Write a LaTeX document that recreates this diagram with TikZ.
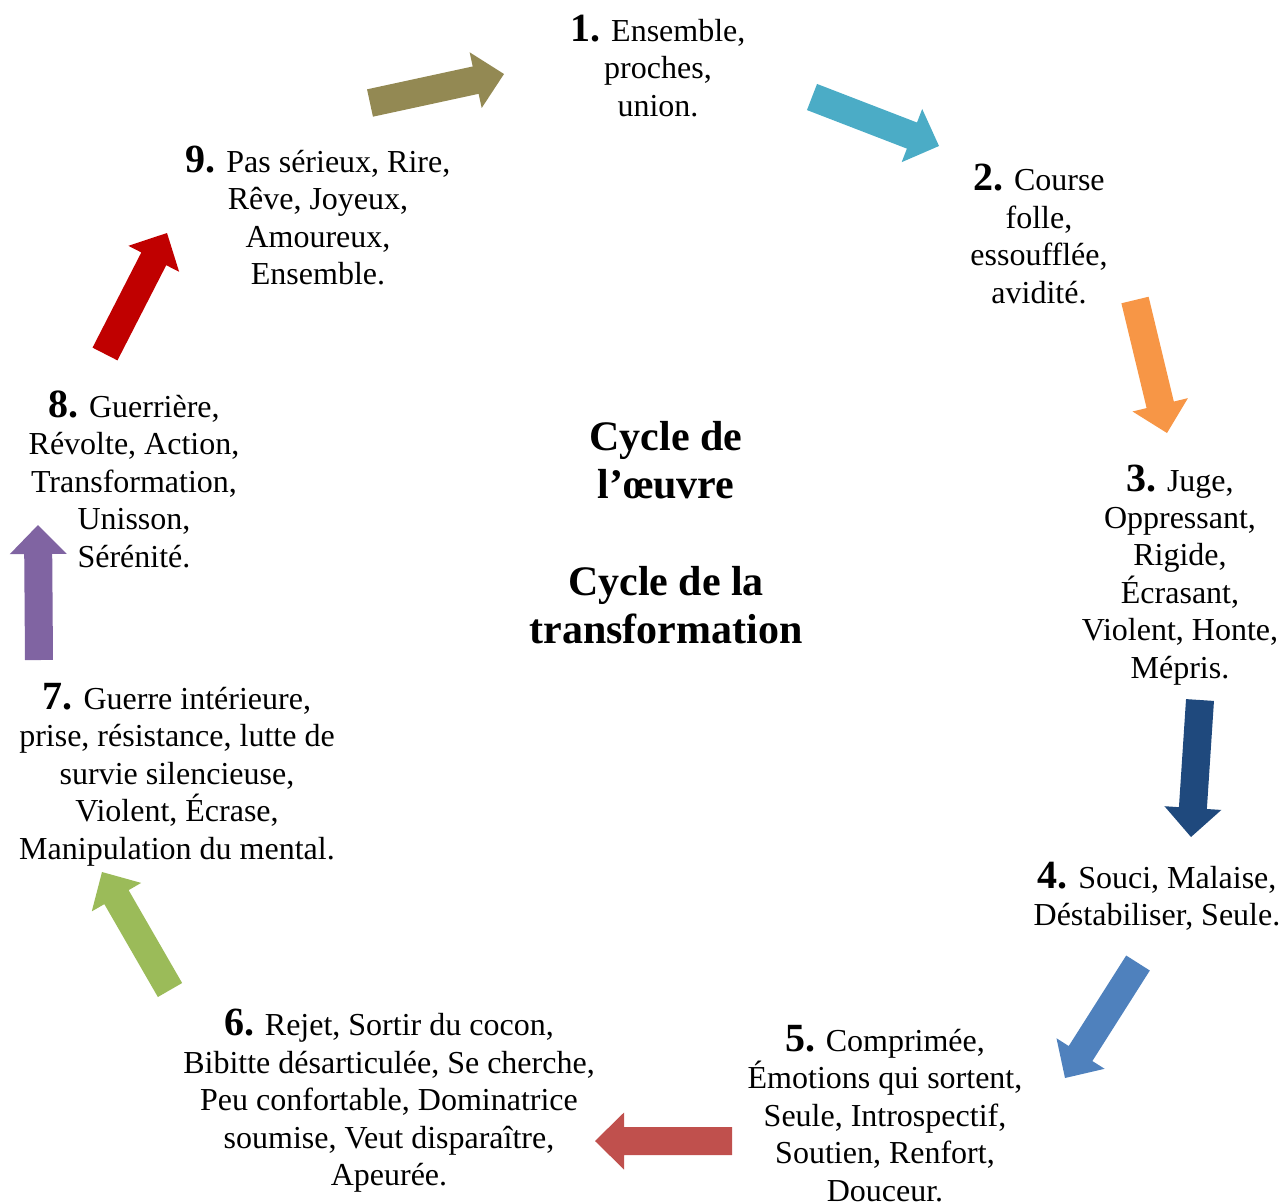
\documentclass[tikz,border=0pt]{standalone}
\usepackage{fontspec}
\setmainfont{Liberation Serif}
\usetikzlibrary{calc}
\definecolor{cOlive}{HTML}{938953}
\definecolor{cTeal}{HTML}{4BACC6}
\definecolor{cOrange}{HTML}{F79646}
\definecolor{cNavy}{HTML}{1F497D}
\definecolor{cBlue}{HTML}{4F81BD}
\definecolor{cRed}{HTML}{C0504D}
\definecolor{cGreen}{HTML}{9BBB59}
\definecolor{cPurple}{HTML}{8064A2}
\definecolor{cDarkRed}{HTML}{C00000}
\newcommand\numb[1]{{\fontsize{20}{20}\selectfont\bfseries #1}}
\newcommand\blockarrow[3]{%
  \path coordinate (hb) at ($(#2)!14.5pt!(#1)$);
  \fill[#3] ($(#1)!7pt!90:(#2)$) -- ($(hb)!7pt!-90:(#1)$) -- ($(hb)!14.25pt!-90:(#1)$)
    -- (#2) -- ($(hb)!14.25pt!90:(#1)$) -- ($(hb)!7pt!90:(#1)$) -- ($(#1)!7pt!-90:(#2)$) -- cycle;
}
\tikzset{
  txt/.style={align=center, anchor=base, inner sep=0pt, font=\fontsize{16}{18.7}\selectfont},
  ttl/.style={align=center, anchor=base, inner sep=0pt, font=\fontsize{21}{24.2}\selectfont\bfseries}
}
\begin{document}
\begin{tikzpicture}[x=0.5pt,y=-0.5pt]
\useasboundingbox (0,0) rectangle (1285,1201);
% text blocks (anchor = baseline of the last line)
\node[txt] (n1) at (658,116) {\numb{1.} Ensemble,\\proches,\\union.};
\node[txt] (n2) at (1039,303) {\numb{2.} Course\\folle,\\essoufflée,\\avidité.};
\node[txt] (n3) at (1180,678) {\numb{3.} Juge,\\Oppressant,\\Rigide,\\Écrasant,\\Violent, Honte,\\Mépris.};
\node[txt] (n4) at (1157,925.5) {\numb{4.} Souci, Malaise,\\Déstabiliser, Seule.};
\node[txt] (n5) at (885,1201) {\numb{5.} Comprimée,\\Émotions qui sortent,\\Seule, Introspectif,\\Soutien, Renfort,\\Douceur.};
\node[txt] (n6) at (389,1185.5) {\numb{6.} Rejet, Sortir du cocon,\\Bibitte désarticulée, Se cherche,\\Peu confortable, Dominatrice\\soumise, Veut disparaître,\\Apeurée.};
\node[txt] (n7) at (177,859) {\numb{7.} Guerre intérieure,\\prise, résistance, lutte de\\survie silencieuse,\\Violent, Écrase,\\Manipulation du mental.};
\node[txt] (n8) at (134,567) {\numb{8.} Guerrière,\\Révolte, Action,\\Transformation,\\Unisson,\\Sérénité.};
\node[txt] (n9) at (318,284.5) {\numb{9.} Pas sérieux, Rire,\\Rêve, Joyeux,\\Amoureux,\\Ensemble.};
\node[ttl] (title) at (666,643.6) {Cycle de\\l’œuvre\\[24.2pt]Cycle de la\\transformation};
% arrow end points
\coordinate (t1) at (370,103);  \coordinate (h1) at (504,74);
\coordinate (t2) at (812,97);   \coordinate (h2) at (939,146);
\coordinate (t3) at (1135,300); \coordinate (h3) at (1167,433);
\coordinate (t4) at (1200,700); \coordinate (h4) at (1191,837);
\coordinate (t5) at (1138,963); \coordinate (h5) at (1065,1078);
\coordinate (t6) at (732,1141); \coordinate (h6) at (595,1141);
\coordinate (t7) at (170,990);  \coordinate (h7) at (102,872);
\coordinate (t8) at (39,660);   \coordinate (h8) at (38,525);
\coordinate (t9) at (105,354);  \coordinate (h9) at (167,233);
\blockarrow{t1}{h1}{cOlive}
\blockarrow{t2}{h2}{cTeal}
\blockarrow{t3}{h3}{cOrange}
\blockarrow{t4}{h4}{cNavy}
\blockarrow{t5}{h5}{cBlue}
\blockarrow{t6}{h6}{cRed}
\blockarrow{t7}{h7}{cGreen}
\blockarrow{t8}{h8}{cPurple}
\blockarrow{t9}{h9}{cDarkRed}
\end{tikzpicture}
\end{document}
